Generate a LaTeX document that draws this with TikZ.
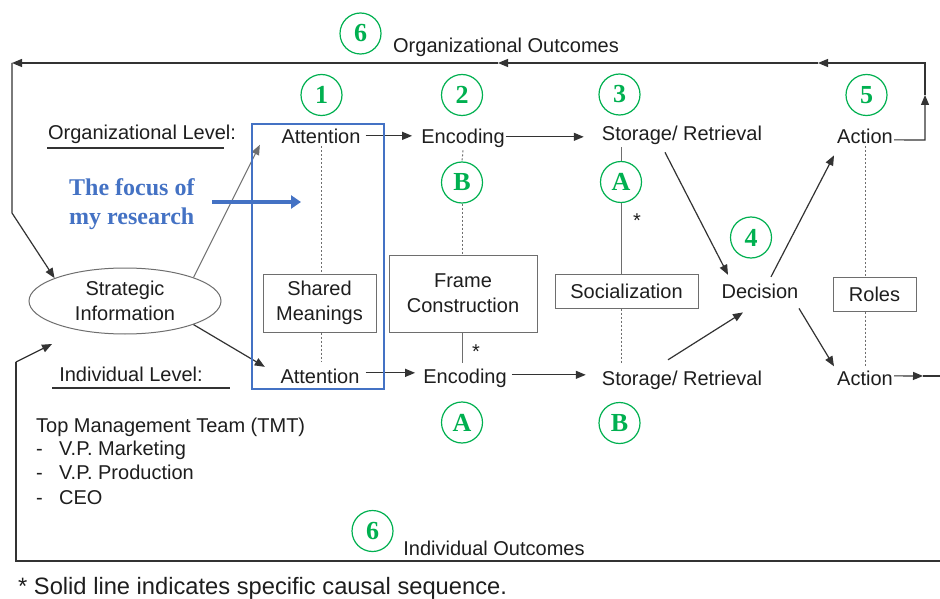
\documentclass[tikz,border=0pt]{standalone}
\usepackage{fontspec}
\setmainfont{Liberation Sans}
\newfontfamily\serifb{Liberation Serif}
\usetikzlibrary{arrows.meta,shapes.geometric,calc}
\definecolor{ink}{HTML}{1E1E1E}
\definecolor{ln}{HTML}{333333}
\definecolor{lng}{HTML}{6E6E6E}
\definecolor{grn}{HTML}{00B050}
\definecolor{blu}{HTML}{4472C4}
\begin{document}
\begin{tikzpicture}[x=1pt,y=-1pt,
  txt/.style={font=\fontsize{20}{25}\selectfont, text=ink, inner sep=2pt, align=center},
  num/.style={circle, draw=grn, line width=1.2pt, minimum size=41pt, inner sep=0pt, text=grn,
              font=\serifb\bfseries\fontsize{26}{26}\selectfont},
  boxn/.style={txt, draw=lng, line width=1pt, inner sep=0pt},
  arr/.style={draw=ln, line width=1.2pt, -{Triangle[length=10pt,width=8pt]}},
  garr/.style={draw=lng, line width=1pt, -{Triangle[length=10pt,width=8pt]}},
  lnk/.style={draw=ln, line width=1.2pt},
  sol/.style={draw=lng, line width=1pt},
  dsh/.style={draw=lng, line width=1pt, dash pattern=on 2pt off 2pt},
  barr/.style={draw=blu, line width=3.5pt, -{Triangle[length=10pt,width=13pt]}},
  ulin/.style={draw=ln, line width=1.2pt},
]
\useasboundingbox (0,0) rectangle (940,599);
\fill[white] (0,0) rectangle (940,599);

% main text nodes
\node[txt,anchor=base] (attT) at (321,144) {Attention};
\node[txt,anchor=base] (encT) at (463,144) {Encoding};
\node[txt,anchor=base] (stoT) at (682,141) {Storage/ Retrieval};
\node[txt,anchor=base] (actT) at (865,144) {Action};
\node[txt,anchor=base] (attB) at (320,383) {Attention};
\node[txt,anchor=base] (encB) at (465,383) {Encoding};
\node[txt,anchor=base] (stoB) at (682,385) {Storage/ Retrieval};
\node[txt,anchor=base] (actB) at (865,385) {Action};
\node[txt,anchor=base] (dec) at (760,298) {Decision};

% labels
\node[txt,anchor=base] (orgL) at (142,140) {Organizational Level:};
\node[txt,anchor=base] (indL) at (131,381) {Individual Level:};
\node[txt,anchor=base] (orgO) at (506,53) {Organizational Outcomes};
\node[txt,anchor=base] (indO) at (494,555) {Individual Outcomes};
\draw[ulin] (47,148) -- (224,148);
\draw[ulin] (52,388) -- (230,388);

% TMT block
\node[txt,anchor=base west,inner sep=0pt] (tmt) at (36,432) {Top Management Team (TMT)};
\node[txt,anchor=base west,inner sep=0pt] (d1) at (36,455) {-};
\node[txt,anchor=base west,inner sep=0pt] (i1) at (59,455) {V.P. Marketing};
\node[txt,anchor=base west,inner sep=0pt] (d2) at (36,479) {-};
\node[txt,anchor=base west,inner sep=0pt] (i2) at (59,479) {V.P. Production};
\node[txt,anchor=base west,inner sep=0pt] (d3) at (36,504) {-};
\node[txt,anchor=base west,inner sep=0pt] (i3) at (59,504) {CEO};

% footnote
\node[anchor=base west, inner sep=0pt, text=ink, font=\fontsize{23.7}{28}\selectfont] (note) at (18,594)
  {* Solid line indicates specific causal sequence.};

% boxes
\node[boxn, minimum width=113pt, minimum height=58pt] (shared) at (319.5,303) {Shared\\Meanings};
\node[boxn, minimum width=148pt, minimum height=77pt] (frame) at (463,293.5) {Frame\\Construction};
\node[boxn, minimum width=143pt, minimum height=34pt] (social) at (626.5,291) {Socialization};
\node[boxn, minimum width=83pt, minimum height=34pt] (roles) at (874.5,294) {Roles};
\node[ellipse, draw=lng, line width=1pt, minimum width=192pt, minimum height=66pt, inner sep=0pt,
      text=ink, align=center, font=\fontsize{20}{24.5}\selectfont] (strat) at (125,301) {Strategic\\Information};

% numbered circles
\node[num] (n6t) at (360.5,33.5) {6};
\node[num] (n1) at (321.5,95) {1};
\node[num] (n2) at (462,95) {2};
\node[num] (n3) at (619.5,94.5) {3};
\node[num] (n5) at (866.5,95) {5};
\node[num] (nB1) at (462,182.5) {B};
\node[num] (nA1) at (621,182) {A};
\node[num] (n4) at (751,237.5) {4};
\node[num] (nA2) at (462,422.5) {A};
\node[num] (nB2) at (619.5,423) {B};
\node[num] (n6b) at (372.5,531) {6};

% verticals
\draw[dsh] (attT.south) -- (attT.south |- shared.north);
\draw[dsh] (attT.south |- shared.south) -- ($(attT.south |- attB.north)+(0,-4)$);
\draw[dsh] (encT.south) -- (nB1.north);
\draw[dsh] (nB1.south) -- (nB1.south |- frame.north);
\draw[sol] (nB1.south |- frame.south) -- ($(nB1.south |- encB.north)+(0,-3)$);
\node[txt,inner sep=0pt] (star1) at (476,352) {*};
\draw[sol] (nA1.north |- stoT.south) -- (nA1.north);
\draw[sol] (nA1.south) -- (nA1.south |- social.north);
\draw[dsh] (nA1.south |- social.south) -- ($(nA1.south |- stoB.north)+(0,-5)$);
\node[txt,inner sep=0pt] (star2) at (637,221) {*};
\draw[dsh] (actT.south) -- (actT.south |- roles.north);
\draw[dsh] (actT.south |- roles.south) -- ($(actT.south |- actB.north)+(0,-2)$);

% horizontal flow
\draw[arr] ($(attT.east)+(3,-1)$) -- ($(attT.east -| encT.west)+(-7,-1)$);
\draw[arr] ($(encT.east)+(-1,-2)$) -- ($(encT.east -| stoT.west)+(-16,-2)$);
\draw[arr] ($(attB.east)+(4,-3)$) -- ($(attB.east -| encB.west)+(-6,-3)$);
\draw[arr] ($(encB.east)+(3,-3)$) -- ($(encB.east -| stoB.west)+(-14,-3)$);

% diagonals
\draw[arr] ($(stoT.south)+(-17,5)$) -- ($(dec.north)+(-32,-6.5)$);
\draw[arr] ($(stoB.north)+(-14,-8.5)$) -- ($(dec.south)+(-17,12)$);
\draw[arr] ($(dec.north)+(11,-4.5)$) -- ($(actT.south)+(-31,9)$);
\draw[arr] ($(dec.south)+(39,8)$) -- ($(actB.north)+(-31,-2)$);
\draw[garr] (strat.19) -- ($(attT.west)+(-19.5,8)$);
\draw[arr] (strat.-19) -- ($(attB.west)+(-13.5,-9)$);

% organizational feedback loop
\coordinate (r1) at (925,140);
\coordinate (r2) at (925,95);
\coordinate (r3) at (925,63);
\coordinate (t1) at (818,63);
\coordinate (t2) at (498,63);
\coordinate (l1) at (12,63);
\coordinate (l2) at (12,213);
\draw[arr] ($(actT.east)+(-1,3)$) -- (r1) -- (r2);
\draw[arr] (r2) -- (r3) -- (t1);
\draw[arr] (t1) -- (t2);
\draw[arr] (t2) -- (l1);
\draw[arr] (l1) -- (l2) -- (strat.162);

% individual feedback loop
\coordinate (b0) at (923,376);
\coordinate (b1) at (960,376);
\coordinate (b2) at (960,561);
\coordinate (b3) at (16,561);
\coordinate (b4) at (16,362);
\draw[arr] ($(actB.east)+(-1,-2)$) -- (b0);
\draw[lnk] (b0) -- (b1) -- (b2) -- (b3) -- (b4);
\draw[arr] (b4) -- ($(strat.center)+(-73,43)$);

% focus box and annotation
\node[draw=blu, line width=2.2pt, minimum width=132pt, minimum height=265pt, inner sep=0pt] (focusbox) at (318,256.5) {};
\node[anchor=base west, inner sep=0pt, text=blu, font=\serifb\bfseries\fontsize{24}{29}\selectfont] (focus1) at (69,195) {The focus of};
\node[anchor=base west, inner sep=0pt, text=blu, font=\serifb\bfseries\fontsize{24}{29}\selectfont] (focus2) at (69,224) {my research};
\coordinate (fs) at (212,202);
\coordinate (ft) at (301,202);
\draw[barr] (fs) -- (ft);
\end{tikzpicture}
\end{document}
